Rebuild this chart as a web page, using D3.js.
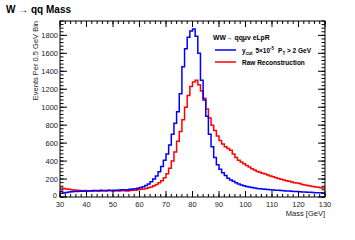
<!DOCTYPE html>
<html>
<head>
<meta charset="utf-8">
<script src="https://cdn.jsdelivr.net/npm/d3@7"></script>
<style>
  body { margin: 0; background: #fff; }
  text { font-family: "Liberation Sans", Arial, sans-serif; }
</style>
</head>
<body>
<div id="chart"></div>
<script>
// bin low edges, 1 GeV steps from 30 to 129
const binLow = d3.range(30, 130, 1);

// y_cut 5e-5, PT > 2 GeV
const ycutValues = [
  60, 45, 50, 55, 58, 62, 60, 65, 63, 66,
  68, 70, 66, 72, 70, 74, 71, 73, 75, 72,
  76, 74, 78, 80, 77, 82, 85, 88, 92, 98,
  105, 115, 128, 145, 170, 200, 235, 280, 340, 410,
  480, 580, 700, 820, 950, 1150, 1450, 1650, 1780, 1850,
  1870, 1790, 1600, 1300, 1080, 900, 700, 560, 440, 360,
  310, 270, 240, 210, 190, 175, 160, 145, 135, 125,
  118, 112, 106, 100, 96, 92, 90, 86, 84, 80,
  78, 76, 74, 72, 70, 68, 66, 64, 62, 60,
  58, 57, 55, 54, 52, 50, 48, 47, 46, 44
];

// raw reconstruction
const rawValues = [
  100, 95, 90, 85, 80, 78, 75, 72, 70, 72,
  70, 68, 72, 70, 68, 66, 70, 68, 72, 70,
  68, 70, 66, 72, 70, 68, 72, 74, 76, 80,
  85, 90, 96, 104, 112, 125, 140, 158, 180, 215,
  260, 320, 400, 500, 620, 730, 860, 1000, 1130, 1230,
  1280, 1300, 1250, 1180, 1100, 980, 880, 800, 740, 680,
  630, 590, 560, 540, 520, 480, 440, 410, 390, 370,
  350, 335, 315, 300, 285, 275, 265, 255, 245, 235,
  225, 215, 205, 198, 190, 182, 175, 168, 160, 155,
  150, 140, 135, 128, 122, 118, 112, 108, 104, 100
];

const xTicks = [30, 40, 50, 60, 70, 80, 90, 100, 110, 120, 130];
const yTicks = [0, 200, 400, 600, 800, 1000, 1200, 1400, 1600, 1800];

const width = 355, height = 240;
const pLeft = 60, pRight = 325, pTop = 21, pBottom = 197;

const svg = d3.select("#chart").append("svg")
  .attr("width", width).attr("height", height);

const x = d3.scaleLinear().domain([30, 130]).range([pLeft, pRight]);
const y = d3.scaleLinear().domain([0, 1960]).range([pBottom, pTop]);

// histograms as steps
const step = d3.line()
  .x(d => x(d[0]))
  .y(d => y(d[1]))
  .curve(d3.curveStepAfter);

function histPoints(vals) {
  const pts = binLow.map((b, i) => [b, vals[i]]);
  pts.push([130, vals[vals.length - 1]]);
  return pts;
}

svg.append("path")
  .attr("d", step(histPoints(rawValues)))
  .attr("fill", "none")
  .attr("stroke", "#ff0000")
  .attr("stroke-width", 1.5);

svg.append("path")
  .attr("d", step(histPoints(ycutValues)))
  .attr("fill", "none")
  .attr("stroke", "#0000ff")
  .attr("stroke-width", 1.5);

// frame
svg.append("rect")
  .attr("x", pLeft).attr("y", pTop)
  .attr("width", pRight - pLeft).attr("height", pBottom - pTop)
  .attr("fill", "none").attr("stroke", "#000").attr("stroke-width", 1);

// ticks, root style, inward on all sides
const xMinor = d3.range(30, 131, 2);
const yMinor = d3.range(0, 1961, 40);

function tickLines(vals, scale, horiz, len, pos, dir) {
  svg.append("g").selectAll("line").data(vals).join("line")
    .attr(horiz ? "x1" : "y1", d => scale(d))
    .attr(horiz ? "x2" : "y2", d => scale(d))
    .attr(horiz ? "y1" : "x1", pos)
    .attr(horiz ? "y2" : "x2", pos + dir * len)
    .attr("stroke", "#000").attr("stroke-width", 1);
}
tickLines(xTicks, x, true, 6, pBottom, -1);
tickLines(xMinor, x, true, 3, pBottom, -1);
tickLines(xTicks, x, true, 6, pTop, 1);
tickLines(xMinor, x, true, 3, pTop, 1);
tickLines(yTicks, y, false, 7, pLeft, 1);
tickLines(yMinor, y, false, 3.5, pLeft, 1);
tickLines(yTicks, y, false, 7, pRight, -1);
tickLines(yMinor, y, false, 3.5, pRight, -1);

// tick labels
svg.append("g").selectAll("text").data(xTicks).join("text")
  .attr("x", d => x(d)).attr("y", 207)
  .attr("text-anchor", "middle")
  .attr("font-size", 7.5).attr("fill", "#222")
  .text(d => d);

svg.append("g").selectAll("text").data(yTicks).join("text")
  .attr("x", d => d === 0 ? pLeft - 3 : pLeft - 2)
  .attr("y", d => y(d) + (d === 0 ? 1.2 : 2.6))
  .attr("text-anchor", "end")
  .attr("font-size", 7.5).attr("fill", "#222")
  .text(d => d);

// axis titles
svg.append("text")
  .attr("x", pRight).attr("y", 216)
  .attr("text-anchor", "end")
  .attr("font-size", 7.5).attr("fill", "#222")
  .text("Mass [GeV]");

svg.append("text")
  .attr("transform", `translate(38,${pTop}) rotate(-90)`)
  .attr("text-anchor", "end")
  .attr("font-size", 7.5).attr("fill", "#222")
  .text("Events Per 0.5 GeV Bin");

// title
svg.append("text")
  .attr("x", 6).attr("y", 13)
  .attr("font-size", 10).attr("font-weight", "bold")
  .text("W \u2192 qq Mass");

// legend
svg.append("text")
  .attr("x", 213).attr("y", 40)
  .attr("font-size", 6.8).attr("font-weight", "bold")
  .text("WW\u2192 qq\u03bc\u03bd  eLpR");

const leg = [
  {color: "#0000ff", yy: 50},
  {color: "#ff0000", yy: 62}
];
svg.append("g").selectAll("line").data(leg).join("line")
  .attr("x1", 215).attr("x2", 236)
  .attr("y1", d => d.yy).attr("y2", d => d.yy)
  .attr("stroke", d => d.color).attr("stroke-width", 1.5);

const t1 = svg.append("text")
  .attr("x", 242).attr("y", 52.5)
  .attr("font-size", 6.5).attr("font-weight", "bold");
t1.append("tspan").text("y");
t1.append("tspan").attr("font-size", 4.5).attr("dy", 2).text("cut");
t1.append("tspan").attr("dy", -2).attr("dx", 3).text("5\u00d710");
t1.append("tspan").attr("font-size", 4.5).attr("dy", -3).text("-5");
t1.append("tspan").attr("dy", 3).attr("dx", 4).text("P");
t1.append("tspan").attr("font-size", 4.5).attr("dy", 2).text("T");
t1.append("tspan").attr("dy", -2).text(" > 2 GeV");

svg.append("text")
  .attr("x", 242).attr("y", 64.5)
  .attr("font-size", 6.5).attr("font-weight", "bold")
  .text("Raw Reconstruction");
</script>
</body>
</html>
